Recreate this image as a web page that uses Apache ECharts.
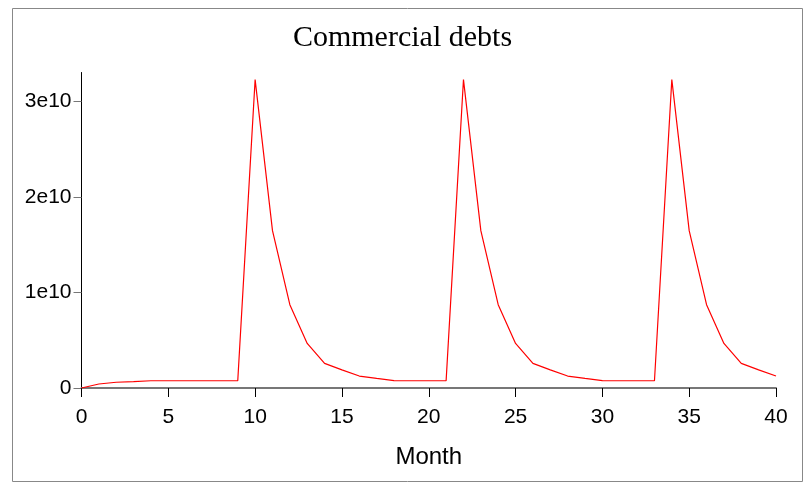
<!DOCTYPE html>
<html>
<head>
<meta charset="utf-8">
<script src="https://cdn.jsdelivr.net/npm/echarts@6/dist/echarts.min.js"></script>
<style>
  html, body { margin: 0; padding: 0; background: #fff; }
  #chart { width: 805px; height: 483px; }
</style>
</head>
<body>
<div id="chart"></div>
<script>
// months 0..40
const months = [];
for (let i = 0; i <= 40; i++) months.push(i);

// commercial debts, in units of 1e10
const debts = [
  0, 0.042, 0.06, 0.066, 0.076, 0.076, 0.076, 0.076, 0.076, 0.076,
  3.226, 1.646, 0.872, 0.466, 0.258, 0.19, 0.125, 0.1, 0.078, 0.076,
  0.076, 0.076, 3.226, 1.646, 0.872, 0.466, 0.258, 0.19, 0.125, 0.1,
  0.078, 0.076, 0.076, 0.076, 3.226, 1.646, 0.872, 0.466, 0.258, 0.19,
  0.125
];

const xTicks = [0, 5, 10, 15, 20, 25, 30, 35, 40];
const yTickLabels = ['0', '1e10', '2e10', '3e10'];

const chart = echarts.init(document.getElementById('chart'));

chart.setOption({
  animation: false,
  title: {
    text: 'Commercial debts',
    left: 'center',
    top: 18,
    textStyle: {
      fontFamily: 'Liberation Serif',
      fontWeight: 'normal',
      fontSize: 30,
      color: '#000',
    },
  },
  graphic: [
    {
      type: 'rect',
      shape: { x: 12.5, y: 8.5, width: 790, height: 473 },
      style: { fill: 'none', stroke: '#888', lineWidth: 1 },
      silent: true,
    },
  ],
  grid: {
    left: 81.5,
    right: 29,
    top: 72.5,
    bottom: 95,
  },
  xAxis: {
    type: 'value',
    min: 0,
    max: 40,
    interval: 5,
    name: 'Month',
    nameLocation: 'middle',
    nameGap: 57,
    nameTextStyle: {
      fontFamily: 'Liberation Sans',
      fontSize: 24,
      color: '#000',
    },
    axisLine: {
      onZero: false,
      lineStyle: { color: '#777', width: 2 },
    },
    axisTick: {
      length: 9,
      lineStyle: { color: '#000', width: 1 },
    },
    axisLabel: {
      margin: 19,
      fontFamily: 'Liberation Sans',
      fontSize: 21,
      color: '#000',
      formatter: function (v) {
        return xTicks.indexOf(v) >= 0 ? String(v) : '';
      },
    },
    splitLine: { show: false },
  },
  yAxis: {
    type: 'value',
    min: 0,
    max: 3.3,
    interval: 1,
    axisLine: {
      show: true,
      lineStyle: { color: '#000', width: 1 },
    },
    axisTick: {
      show: true,
      length: 8,
      lineStyle: { color: '#777', width: 1 },
    },
    axisLabel: {
      margin: 10,
      fontFamily: 'Liberation Sans',
      fontSize: 21,
      color: '#000',
      showMaxLabel: false,
      formatter: function (v) {
        const i = Math.round(v);
        return yTickLabels[i] !== undefined && Math.abs(v - i) < 1e-6 ? yTickLabels[i] : '';
      },
    },
    splitLine: { show: false },
  },
  series: [
    {
      type: 'line',
      data: months.map((m, i) => [m, debts[i]]),
      showSymbol: false,
      lineStyle: { color: '#ff0000', width: 1.2 },
      itemStyle: { color: '#ff0000' },
    },
  ],
});
</script>
</body>
</html>
